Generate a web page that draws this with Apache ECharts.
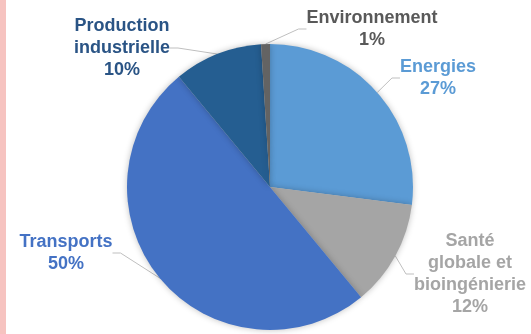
<!DOCTYPE html>
<html><head><meta charset="utf-8">
<script src="https://cdn.jsdelivr.net/npm/echarts@6/dist/echarts.min.js"></script>
<style>html,body{margin:0;padding:0;background:#fff}#c{width:531px;height:334px}</style>
</head><body><div id="c"></div>
<script>
const categories = ['Energies', 'Santé\nglobale et\nbioingénierie', 'Transports', 'Production\nindustrielle', 'Environnement'];
const values = [27, 12, 50, 10, 1];
const colors = ['#5B9BD5', '#A5A5A5', '#4472C4', '#255E91', '#636363'];
const labelColors = ['#5B9BD5', '#A5A5A5', '#4472C4', '#2A5485', '#595959'];
// label block centers (layout)
const labelPos = [[438, 78], [470, 274], [66, 253], [122, 48], [372, 29]];

const chart = echarts.init(document.getElementById('c'));
chart.setOption({
  animation: false,
  graphic: [{ type: 'rect', shape: { x: 0, y: 0, width: 6, height: 334 }, style: { fill: '#F6C3C0' } }],
  series: [{
    type: 'pie',
    center: [270, 187],
    radius: 143,
    startAngle: 90,
    clockwise: true,
    data: categories.map((c, i) => ({
      name: c, value: values[i],
      itemStyle: { color: colors[i] },
      label: { color: labelColors[i] }
    })),
    itemStyle: { shadowBlur: 6, shadowColor: 'rgba(0,0,0,0.25)' },
    label: {
      show: true,
      formatter: p => p.name + '\n' + p.value + '%',
      fontFamily: 'Liberation Sans, Arial, sans-serif',
      fontWeight: 'bold',
      fontSize: 18,
      lineHeight: 22,
      align: 'center',
      overflow: 'none'
    },
    labelLine: { show: true, lineStyle: { color: '#BFBFBF', width: 1 }, length: 10, length2: 8 },
    labelLayout: p => ({
      x: labelPos[p.dataIndex][0],
      y: labelPos[p.dataIndex][1],
      align: 'center',
      verticalAlign: 'middle'
    })
  }]
});
</script></body></html>
